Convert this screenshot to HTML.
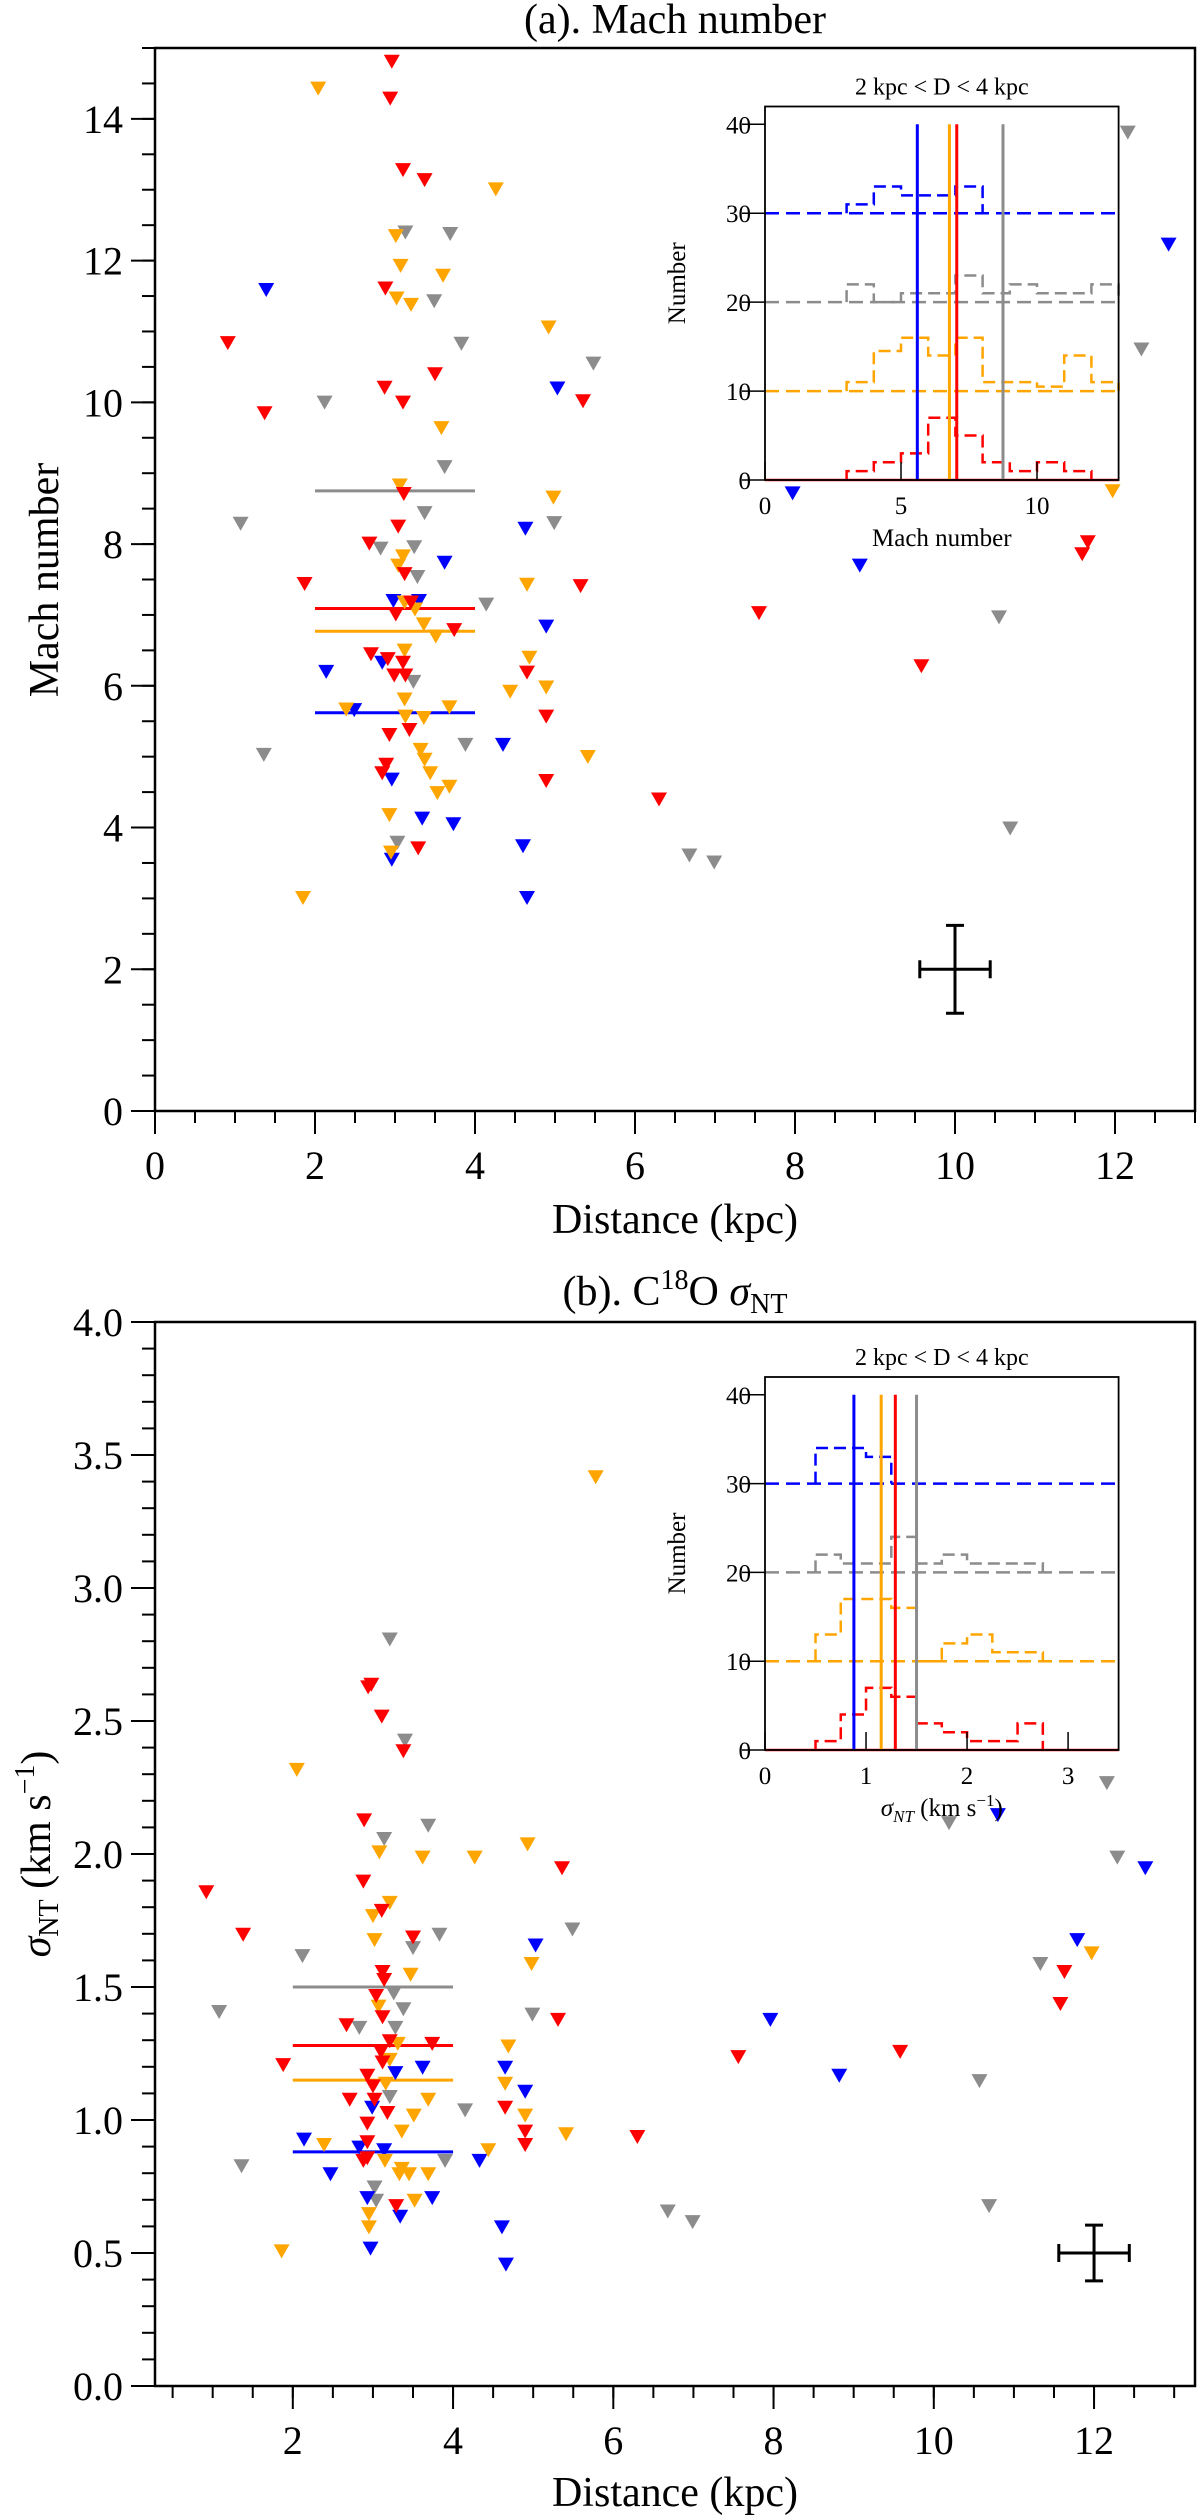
<!DOCTYPE html>
<html><head><meta charset="utf-8"><style>
body{margin:0;background:#fff}
svg{display:block;font-family:"Liberation Serif",serif}
</style></head><body>
<svg id="fig" width="1200" height="2516" viewBox="0 0 1200 2516" xmlns="http://www.w3.org/2000/svg">
<rect x="0" y="0" width="1200" height="2516" fill="#fff"/>
<g id="pa"></g>
<g id="pb"></g>
</svg>
<script>
// ---- Panel (a) data: [distance, mach] ----
const aRed=[[2.96,14.82],[2.94,14.3],[3.10,13.29],[3.37,13.15],[2.88,11.62],[0.91,10.85],[3.50,10.41],[2.87,10.22],[5.35,10.03],[3.10,10.01],[1.37,9.86],[3.11,8.72],[3.04,8.26],[2.68,8.02],[3.12,7.59],[1.87,7.45],[5.32,7.42],[3.20,7.19],[3.01,7.02],[3.74,6.8],[2.70,6.46],[2.91,6.39],[3.10,6.34],[4.65,6.2],[2.99,6.16],[3.13,6.16],[4.89,5.58],[2.93,5.32],[3.18,5.39],[2.89,4.9],[2.84,4.78],[4.89,4.67],[6.30,4.41],[3.29,3.72],[7.55,7.04],[9.58,6.29],[11.66,8.04],[11.59,7.87]];
const aOrange=[[2.04,14.44],[4.26,13.02],[3.01,12.36],[3.07,11.94],[3.60,11.8],[3.02,11.48],[3.20,11.39],[4.92,11.07],[3.58,9.65],[3.06,8.84],[4.98,8.67],[3.10,7.84],[3.04,7.71],[4.65,7.44],[3.12,7.19],[3.25,7.09],[3.36,6.88],[3.51,6.71],[4.68,6.41],[3.12,6.51],[4.44,5.93],[4.89,5.99],[3.12,5.82],[2.39,5.68],[3.68,5.71],[3.13,5.58],[3.36,5.56],[5.41,5.01],[3.32,5.11],[3.37,4.97],[3.44,4.78],[3.68,4.59],[3.53,4.5],[2.93,4.19],[2.95,3.66],[1.85,3.02],[11.97,8.76]];
const aBlue=[[1.39,11.6],[5.03,10.21],[4.63,8.23],[3.62,7.75],[2.98,7.21],[3.30,7.21],[4.89,6.85],[2.84,6.34],[2.14,6.21],[2.49,5.67],[4.35,5.18],[2.96,4.69],[3.34,4.14],[3.73,4.06],[2.96,3.56],[4.60,3.75],[4.65,3.02],[12.67,12.24],[7.97,8.73],[8.81,7.71]];
const aGray=[[3.13,12.41],[3.69,12.39],[3.49,11.44],[3.83,10.84],[5.48,10.56],[2.12,10.01],[3.62,9.1],[3.37,8.45],[1.07,8.30],[4.99,8.31],[2.82,7.95],[3.24,7.97],[3.28,7.55],[4.14,7.16],[3.23,6.07],[3.88,5.18],[1.36,5.04],[10.69,4.0],[3.03,3.80],[6.68,3.62],[6.99,3.52],[10.55,6.98],[12.16,13.82],[12.33,10.76]];
const aMedians=[8.75,7.09,6.77,5.62]; // gray, red, orange, blue
const aErr=[10,2,0.44,0.62];
const aXTicks=[0,2,4,6,8,10,12];
const aYTicks=[0,2,4,6,8,10,12,14];
// inset (a) histograms
const aHistStart=3, aHistW=1;
const aHBlue=[1,3,2,2,3];
const aHGray=[2,0,1,1,3,1,2,1,1,2];
const aHOrange=[1,4.5,6,4,6,1,1,0.5,4,1];
const aHRed=[1,2,3,7,5,2,1,2,1];
const aInsetXTicks=[0,5,10];
// ---- Panel (b) data ----
const bRed=[[2.94,2.63],[2.98,2.64],[3.11,2.52],[3.38,2.39],[2.89,2.13],[5.36,1.95],[0.92,1.86],[2.88,1.90],[3.11,1.79],[1.38,1.70],[3.50,1.69],[11.63,1.56],[11.58,1.44],[3.12,1.56],[3.14,1.53],[3.04,1.47],[3.12,1.39],[5.31,1.38],[2.67,1.36],[3.21,1.30],[3.74,1.29],[3.10,1.26],[7.56,1.24],[9.58,1.26],[1.88,1.21],[3.12,1.22],[2.93,1.17],[3.00,1.13],[2.71,1.08],[3.02,1.08],[4.65,1.05],[3.18,1.03],[2.93,0.99],[4.90,0.96],[6.30,0.94],[2.93,0.92],[4.90,0.91],[2.88,0.85],[2.93,0.86],[3.29,0.68]];
const bOrange=[[5.78,3.42],[2.05,2.32],[3.08,2.01],[3.62,1.99],[4.27,1.99],[4.93,2.04],[3.21,1.82],[3.00,1.77],[3.02,1.68],[4.98,1.59],[11.97,1.63],[3.47,1.55],[3.07,1.43],[3.31,1.29],[4.69,1.28],[3.21,1.23],[3.16,1.14],[4.65,1.14],[3.69,1.08],[3.51,1.02],[4.90,1.02],[3.36,0.96],[5.41,0.95],[2.39,0.91],[4.44,0.89],[3.15,0.85],[3.36,0.82],[3.33,0.80],[3.45,0.80],[3.69,0.80],[3.52,0.70],[2.95,0.65],[2.95,0.60],[1.86,0.51]];
const bBlue=[[5.03,1.66],[11.79,1.68],[7.96,1.38],[3.62,1.20],[4.65,1.20],[3.28,1.18],[8.82,1.17],[4.90,1.11],[2.99,1.05],[2.14,0.93],[2.83,0.90],[3.14,0.89],[4.33,0.85],[2.47,0.80],[2.93,0.71],[3.74,0.71],[3.34,0.64],[4.61,0.60],[2.97,0.52],[4.66,0.46],[10.80,2.15],[12.64,1.95]];
const bGray=[[3.21,2.81],[3.40,2.43],[3.69,2.11],[3.14,2.06],[2.12,1.62],[3.50,1.65],[3.83,1.70],[5.49,1.72],[11.33,1.59],[3.26,1.48],[1.08,1.41],[3.38,1.42],[4.99,1.40],[2.83,1.35],[3.28,1.35],[3.21,1.09],[10.57,1.15],[4.15,1.04],[3.90,0.85],[1.36,0.83],[3.02,0.75],[3.04,0.70],[6.68,0.66],[6.99,0.62],[10.69,0.68],[12.16,2.27],[10.19,2.12],[12.29,1.99]];
const bMedians=[1.50,1.28,1.15,0.88];
const bErr=[12,0.5,0.44,0.105];
const bXTicks=[2,4,6,8,10,12];
const bYTicks=[0,0.5,1,1.5,2,2.5,3,3.5,4];
const bHistStart=0.5, bHistW=0.25;
const bHBlue=[4,4,3];
const bHGray=[2,1,1,4,1,2,1,1,1];
const bHOrange=[3,7,7,6,0,2,3,1,1];
const bHRed=[1,4,7,6,3,2,1,1,3];
const bInsetXTicks=[0,1,2,3];

const NS='http://www.w3.org/2000/svg';
const COL={red:'#ff0000',orange:'#ffa500',blue:'#0000ff',gray:'#8c8c8c'};
function el(parent,tag,attrs,text){const e=document.createElementNS(NS,tag);for(const k in attrs)e.setAttribute(k,attrs[k]);if(text!==undefined)e.textContent=text;parent.appendChild(e);return e;}
function lin(d0,d1,p0,p1){return v=>p0+(v-d0)/(d1-d0)*(p1-p0);}

function panel(g,cfg){
  const X=lin(cfg.xmin,cfg.xmax,cfg.L,cfg.R), Y=lin(0,cfg.ymax,cfg.B,cfg.T);
  // ticks
  for(let v=cfg.minorXStart;v<=cfg.xmax+1e-9;v+=cfg.minorX){
    const t=el(g,'line',{x1:X(v),x2:X(v),y1:cfg.B,y2:cfg.B+12,stroke:'#000','stroke-width':2});
    
    
  }
  cfg.xticks.forEach(v=>{
    const t=el(g,'line',{x1:X(v),x2:X(v),y1:cfg.B,y2:cfg.B+23,stroke:'#000','stroke-width':2});
    
    
    const l=el(g,'text',{x:X(v),y:cfg.B+68,'font-size':40,'text-anchor':'middle'},String(v));
    
    
  });
  for(let v=0;v<=cfg.ymax+1e-9;v+=cfg.minorY){
    const t=el(g,'line',{x1:cfg.L-13,x2:cfg.L,y1:Y(v),y2:Y(v),stroke:'#000','stroke-width':2});
    
    
  }
  cfg.yticks.forEach(v=>{
    const t=el(g,'line',{x1:cfg.L-24,x2:cfg.L,y1:Y(v),y2:Y(v),stroke:'#000','stroke-width':2});
    
    
    const l=el(g,'text',{x:cfg.L-32,y:Y(v)+14,'font-size':40,'text-anchor':'end'},cfg.yfmt(v));
    
    
  });
  // medians
  const mc=['gray','red','orange','blue'];
  cfg.medians.forEach((m,i)=>{
    const l=el(g,'line',{x1:X(2),x2:X(4),y1:Y(m),y2:Y(m),stroke:COL[mc[i]],'stroke-width':3});
    
    
  });
  // points
  [['gray',cfg.gray],['blue',cfg.blue],['orange',cfg.orange],['red',cfg.red]].forEach(([c,arr])=>{
    arr.forEach(p=>{
      const x=X(p[0]),y=Y(p[1]);
      const t=el(g,'path',{d:`M${x-8},${y-6}L${x+8},${y-6}L${x},${y+8}Z`,fill:COL[c]});
      
      
    });
  });
  // error cross
  const e=cfg.err, ex=X(e[0]), ey=Y(e[1]);
  const eg=el(g,'g',{stroke:'#000','stroke-width':3});
  
  
  el(eg,'line',{x1:X(e[0]-e[2]),x2:X(e[0]+e[2]),y1:ey,y2:ey});
  el(eg,'line',{x1:ex,x2:ex,y1:Y(e[1]-e[3]),y2:Y(e[1]+e[3])});
  el(eg,'line',{x1:X(e[0]-e[2]),x2:X(e[0]-e[2]),y1:ey-9,y2:ey+9});
  el(eg,'line',{x1:X(e[0]+e[2]),x2:X(e[0]+e[2]),y1:ey-9,y2:ey+9});
  el(eg,'line',{x1:ex-9,x2:ex+9,y1:Y(e[1]-e[3]),y2:Y(e[1]-e[3])});
  el(eg,'line',{x1:ex-9,x2:ex+9,y1:Y(e[1]+e[3]),y2:Y(e[1]+e[3])});
  // frame
  const f=el(g,'rect',{x:cfg.L,y:cfg.T,width:cfg.R-cfg.L,height:cfg.B-cfg.T,fill:'none',stroke:'#000','stroke-width':2.5});
  
  
  // inset
  inset(g,cfg.inset);
}

function inset(g,c){
  const X=lin(0,c.xmax,c.L,c.R), Y=lin(0,42,c.B,c.T);
  const ig=el(g,'g',{});
  
  
  el(ig,'rect',{x:c.L,y:c.T,width:c.R-c.L,height:c.B-c.T,fill:'#fff'});
  const series=[['red',0,c.red],['orange',10,c.orange],['gray',20,c.gray],['blue',30,c.blue]];
  series.forEach(([col,off,h])=>{
    const b=el(ig,'line',{x1:c.L,x2:c.R,y1:Y(off),y2:Y(off),stroke:COL[col],'stroke-width':2.5,'stroke-dasharray':col==='red'?'none':'14,7'});
    
    
    let d=`M${X(c.start)},${Y(off)}`;
    h.forEach((v,i)=>{d+=`L${X(c.start+i*c.w)},${Y(off+v)}L${X(c.start+(i+1)*c.w)},${Y(off+v)}`;});
    d+=`L${X(c.start+h.length*c.w)},${Y(off)}`;
    const p=el(ig,'path',{d:d,fill:'none',stroke:COL[col],'stroke-width':2.5,'stroke-dasharray':'12,6'});
    
    
  });
  const mc=['gray','red','orange','blue'];
  c.medians.forEach((m,i)=>{
    const l=el(ig,'line',{x1:X(m),x2:X(m),y1:Y(0),y2:Y(40),stroke:COL[mc[i]],'stroke-width':3});
    
    
  });
  [0,10,20,30,40].forEach(v=>{
    const t=el(ig,'line',{x1:c.L-23,x2:c.L,y1:Y(v),y2:Y(v),stroke:'#000','stroke-width':1.5});
    
    
    const l=el(ig,'text',{x:c.L-14,y:Y(v)+9,'font-size':25,'text-anchor':'end'},String(v));
    
    
  });
  c.xticks.forEach(v=>{
    const t=el(ig,'line',{x1:X(v),x2:X(v),y1:c.B,y2:c.B-18,stroke:'#000','stroke-width':1.5});
    
    
    const l=el(ig,'text',{x:X(v),y:c.B+34,'font-size':25,'text-anchor':'middle'},String(v));
    
    
  });
  const f=el(ig,'rect',{x:c.L,y:c.T,width:c.R-c.L,height:c.B-c.T,fill:'none',stroke:'#000','stroke-width':1.8});
  
  
  const t=el(ig,'text',{x:(c.L+c.R)/2,y:c.T-12,'font-size':24,'text-anchor':'middle'},'2 kpc < D < 4 kpc');
  
  
  const yl=el(ig,'text',{x:0,y:0,'font-size':25,'text-anchor':'middle',transform:`translate(${c.L-80},${(c.T+c.B)/2-10}) rotate(-90)`},'Number');
  
  
  const xl=el(ig,'text',{x:(c.L+c.R)/2,y:c.B+66,'font-size':25,'text-anchor':'middle'});
  
  
  xl.innerHTML=c.xlabel;
}

const pa=document.getElementById('pa'), pb=document.getElementById('pb');
panel(pa,{L:155,R:1195,T:48,B:1111,xmin:0,xmax:13,ymax:15,minorX:0.5,minorXStart:0,minorY:0.5,
  xticks:aXTicks,yticks:aYTicks,yfmt:v=>String(v),medians:aMedians,err:aErr,
  red:aRed,orange:aOrange,blue:aBlue,gray:aGray,
  inset:{L:765,R:1118.6,T:106.5,B:480,xmax:13,start:aHistStart,w:aHistW,red:aHRed,orange:aHOrange,gray:aHGray,blue:aHBlue,
    medians:[8.75,7.05,6.78,5.6],xticks:aInsetXTicks,xlabel:'Mach number'}});
panel(pb,{L:155,R:1195,T:1322,B:2386,xmin:0.28,xmax:13.26,ymax:4,minorX:0.5,minorXStart:0.5,minorY:0.1,
  xticks:bXTicks,yticks:bYTicks,yfmt:v=>v.toFixed(1),medians:bMedians,err:bErr,
  red:bRed,orange:bOrange,blue:bBlue,gray:bGray,
  inset:{L:765,R:1118.6,T:1377,B:1750,xmax:3.5,start:bHistStart,w:bHistW,red:bHRed,orange:bHOrange,gray:bHGray,blue:bHBlue,
    medians:[1.5,1.29,1.15,0.88],xticks:bInsetXTicks,
    xlabel:'<tspan font-style="italic">σ</tspan><tspan font-style="italic" font-size="17" dy="6">NT</tspan><tspan dy="-6"> (km s</tspan><tspan font-size="17" dy="-10">−1</tspan><tspan dy="10">)</tspan>'}});

// titles and axis labels
function txt(g,name,attrs,html){const t=el(g,'text',attrs);t.innerHTML=html;return t;}
txt(pa,'panel-a-title',{x:675,y:33,'font-size':42,'text-anchor':'middle'},'(a). Mach number');
txt(pa,'x-axis-title',{x:675,y:1233,'font-size':42,'text-anchor':'middle'},'Distance (kpc)');
txt(pa,'y-axis-title',{x:0,y:0,'font-size':42,'text-anchor':'middle',transform:'translate(58,580) rotate(-90)'},'Mach number');
txt(pb,'panel-b-title',{x:675,y:1305,'font-size':42,'text-anchor':'middle'},'(b). C<tspan font-size="28" dy="-16">18</tspan><tspan dy="16">O </tspan><tspan font-style="italic">σ</tspan><tspan font-size="28" dy="8">NT</tspan>');
txt(pb,'x-axis-title',{x:675,y:2506,'font-size':42,'text-anchor':'middle'},'Distance (kpc)');
txt(pb,'y-axis-title',{x:0,y:0,'font-size':42,'text-anchor':'middle',transform:'translate(50,1854) rotate(-90)'},'<tspan font-style="italic">σ</tspan><tspan font-size="28" dy="8">NT</tspan><tspan dy="-8"> (km s</tspan><tspan font-size="28" dy="-16">−1</tspan><tspan dy="16">)</tspan>');
</script>
</body></html>
